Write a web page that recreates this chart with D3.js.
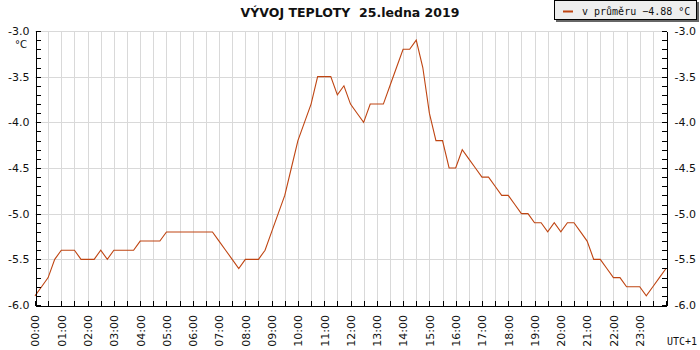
<!DOCTYPE html>
<html lang="cs">
<head>
<meta charset="UTF-8">
<title>Vývoj teploty</title>
<script src="https://cdn.jsdelivr.net/npm/d3@7"></script>
<style>
	body { margin: 0; background: #fff; }
	text { font-family: "DejaVu Sans", Verdana, sans-serif; fill: #111; }
	.mono { font-family: "DejaVu Sans Mono", monospace; }
	.grid line { stroke: #d9d9d9; shape-rendering: crispEdges; }
	.axis path, .axis line { stroke: #000; shape-rendering: crispEdges; }
	.axis text { font-size: 11px; }
</style>
</head>
<body>
<div id="chart"></div>
<script>
	// 15 minute samples, 00:00 .. 24:00
	var times = [
		"00:00","00:15","00:30","00:45","01:00","01:15","01:30","01:45",
		"02:00","02:15","02:30","02:45","03:00","03:15","03:30","03:45",
		"04:00","04:15","04:30","04:45","05:00","05:15","05:30","05:45",
		"06:00","06:15","06:30","06:45","07:00","07:15","07:30","07:45",
		"08:00","08:15","08:30","08:45","09:00","09:15","09:30","09:45",
		"10:00","10:15","10:30","10:45","11:00","11:15","11:30","11:45",
		"12:00","12:15","12:30","12:45","13:00","13:15","13:30","13:45",
		"14:00","14:15","14:30","14:45","15:00","15:15","15:30","15:45",
		"16:00","16:15","16:30","16:45","17:00","17:15","17:30","17:45",
		"18:00","18:15","18:30","18:45","19:00","19:15","19:30","19:45",
		"20:00","20:15","20:30","20:45","21:00","21:15","21:30","21:45",
		"22:00","22:15","22:30","22:45","23:00","23:15","23:30","23:45",
		"24:00"
	];
	var temps = [
		-5.9,-5.8,-5.7,-5.5,-5.4,-5.4,-5.4,-5.5,
		-5.5,-5.5,-5.4,-5.5,-5.4,-5.4,-5.4,-5.4,
		-5.3,-5.3,-5.3,-5.3,-5.2,-5.2,-5.2,-5.2,
		-5.2,-5.2,-5.2,-5.2,-5.3,-5.4,-5.5,-5.6,
		-5.5,-5.5,-5.5,-5.4,-5.2,-5.0,-4.8,-4.5,
		-4.2,-4.0,-3.8,-3.5,-3.5,-3.5,-3.7,-3.6,
		-3.8,-3.9,-4.0,-3.8,-3.8,-3.8,-3.6,-3.4,
		-3.2,-3.2,-3.1,-3.4,-3.9,-4.2,-4.2,-4.5,
		-4.5,-4.3,-4.4,-4.5,-4.6,-4.6,-4.7,-4.8,
		-4.8,-4.9,-5.0,-5.0,-5.1,-5.1,-5.2,-5.1,
		-5.2,-5.1,-5.1,-5.2,-5.3,-5.5,-5.5,-5.6,
		-5.7,-5.7,-5.8,-5.8,-5.8,-5.9,-5.8,-5.7,
		-5.6
	];
	var hourLabels = ["00:00","01:00","02:00","03:00","04:00","05:00","06:00","07:00",
		"08:00","09:00","10:00","11:00","12:00","13:00","14:00","15:00",
		"16:00","17:00","18:00","19:00","20:00","21:00","22:00","23:00"];
	var yMajor = [-6.0, -5.5, -5.0, -4.5, -4.0, -3.5, -3.0];
	var yMinor = [-6.0,-5.9,-5.8,-5.7,-5.6,-5.5,-5.4,-5.3,-5.2,-5.1,-5.0,-4.9,-4.8,-4.7,-4.6,
		-4.5,-4.4,-4.3,-4.2,-4.1,-4.0,-3.9,-3.8,-3.7,-3.6,-3.5,-3.4,-3.3,-3.2,-3.1,-3.0];
	var title = "VÝVOJ TEPLOTY  25.ledna 2019";
	var legendText = "v průměru −4.88 °C";
	var lineColor = "#bf4512";

	function toMin(s) {
		var p = s.split(":");
		return +p[0] * 60 + +p[1];
	}

	var W = 700, H = 350;
	var plotL = 35, plotR = 666, plotT = 31, plotB = 305;

	var svg = d3.select("#chart").append("svg")
		.attr("width", W).attr("height", H);

	var x = d3.scaleLinear().domain([0, 1440]).range([plotL, plotR]);
	var y = d3.scaleLinear().domain([-6, -3]).range([plotB, plotT]);

	var halfHours = d3.range(0, 1441, 30);

	// grid
	var grid = svg.append("g").attr("class", "grid");
	grid.selectAll(".v").data(halfHours.slice(1, -1)).enter().append("line")
		.attr("x1", function (d) { return Math.round(x(d)) + 0.5; })
		.attr("x2", function (d) { return Math.round(x(d)) + 0.5; })
		.attr("y1", plotT).attr("y2", plotB);
	grid.selectAll(".h").data(yMajor.slice(1)).enter().append("line")
		.attr("x1", plotL).attr("x2", plotR)
		.attr("y1", function (d) { return Math.round(y(d)) + 0.5; })
		.attr("y2", function (d) { return Math.round(y(d)) + 0.5; });

	// line
	var data = times.map(function (t, i) { return { m: toMin(t), v: temps[i] }; });
	svg.append("path")
		.datum(data)
		.attr("fill", "none")
		.attr("stroke", lineColor)
		.attr("stroke-width", 1.1)
		.attr("d", d3.line()
			.x(function (d) { return x(d.m); })
			.y(function (d) { return y(d.v); }));

	// axes
	var fmt = function (d) { return d.toFixed(1); };
	svg.append("g").attr("class", "axis")
		.attr("transform", "translate(" + (plotL + 0.5) + ",0)")
		.call(d3.axisLeft(y).tickValues(yMinor).tickSize(-5).tickSizeOuter(0).tickPadding(6)
			.tickFormat(function (d) { return yMajor.indexOf(d) >= 0 ? fmt(d) : ""; }));
	svg.append("g").attr("class", "axis")
		.attr("transform", "translate(" + (plotR + 0.5) + ",0)")
		.call(d3.axisRight(y).tickValues(yMinor).tickSize(-5).tickSizeOuter(0).tickPadding(8)
			.tickFormat(function (d) { return yMajor.indexOf(d) >= 0 ? fmt(d) : ""; }));
	svg.append("g").attr("class", "axis")
		.attr("transform", "translate(0," + (plotB + 0.5) + ")")
		.call(d3.axisBottom(x).tickValues(halfHours).tickSize(-5).tickSizeOuter(0).tickFormat(""));

	svg.selectAll(".axis .tick text").attr("fill", "#111");

	// hour labels, rotated
	svg.append("g").selectAll("text").data(hourLabels).enter().append("text")
		.attr("transform", function (d) {
			return "translate(" + (x(toMin(d)) + 0.5) + "," + (plotB + 10) + ") rotate(-90)";
		})
		.attr("text-anchor", "end")
		.attr("dy", "0.35em")
		.style("font-size", "11px")
		.text(function (d) { return d; });

	svg.append("text")
		.attr("x", 27).attr("y", 48)
		.attr("text-anchor", "end")
		.style("font-size", "10px")
		.text("°C");

	svg.append("text").attr("class", "mono")
		.attr("x", 667).attr("y", 345)
		.style("font-size", "10px")
		.text("UTC+1");

	// title
	svg.append("text")
		.attr("x", 350).attr("y", 17)
		.attr("text-anchor", "middle")
		.style("font-size", "12.5px")
		.style("font-weight", "bold")
		.style("white-space", "pre")
		.text(title);

	// legend
	var lg = svg.append("g").attr("transform", "translate(554,0)");
	lg.append("rect").attr("x", 2).attr("y", 2).attr("width", 143).attr("height", 20).attr("fill", "#666");
	lg.append("rect").attr("x", 0.5).attr("y", 0.5).attr("width", 142).attr("height", 19)
		.attr("fill", "#eeeeee").attr("stroke", "#000");
	lg.append("line").attr("x1", 9).attr("x2", 19).attr("y1", 11.5).attr("y2", 11.5)
		.attr("stroke", lineColor).attr("stroke-width", 2);
	lg.append("text").attr("class", "mono")
		.attr("x", 28).attr("y", 15)
		.style("font-size", "10px")
		.text(legendText);
</script>
</body>
</html>
